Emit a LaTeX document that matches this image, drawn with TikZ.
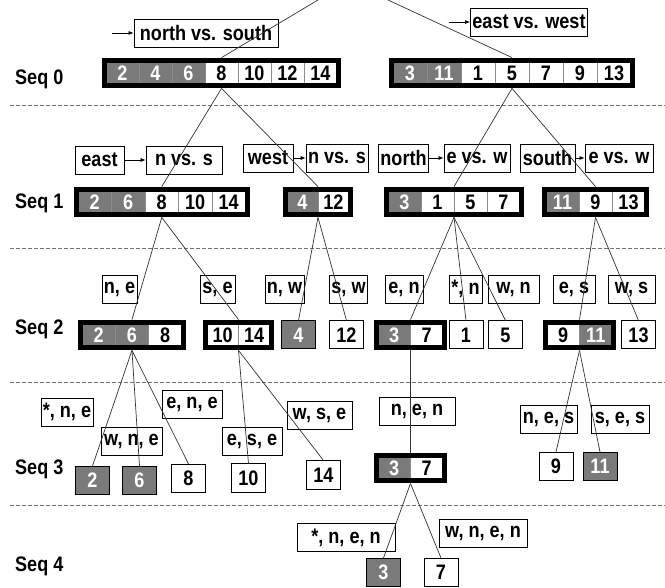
\documentclass[tikz,border=0pt]{standalone}
\usepackage{fontspec}
\setmainfont{Liberation Sans}[FakeStretch=0.86]
\usetikzlibrary{fit,arrows.meta}
\definecolor{cellgray}{HTML}{7A7A7A}
\tikzset{
  lblfont/.style={font=\fontsize{21}{23}\selectfont\bfseries},
  cell/.style={lblfont, draw=black!45, line width=0.8pt, minimum height=22, inner sep=0pt},
  thickbox/.style={draw=black, line width=5pt, inner sep=1.5pt},
  single/.style={lblfont, draw=black, line width=1pt, fill=white, minimum width=34, minimum height=28, inner sep=0pt},
  shaded/.style={fill=cellgray, text=white},
  lbl/.style={lblfont, draw=black, line width=0.8pt, fill=white, minimum height=28, inner xsep=2pt, inner ysep=0pt},
  seqlbl/.style={lblfont, anchor=west, inner sep=0pt},
  wire/.style={draw=black!80, line width=0.7pt},
  sepline/.style={draw=black!55, line width=1pt, dash pattern=on 4pt off 2pt},
  into/.style={-{Latex[length=5pt,width=4pt]}, line width=0.7pt},
}
% name, centre of first cell, y, cell width, number of cells, cells
\newcommand{\seqbox}[6]{%
  \foreach \v/\c/\t [count=\i] in {#6}
    \node[cell, minimum width=#4, fill=\c, text=\t] (#1-\i) at ({#2+(\i-1)*#4}, #3) {\v};
  \node[thickbox, fit=(#1-1) (#1-#5)] (#1) {};
}
\begin{document}
\begin{tikzpicture}[x=1pt, y=-1pt]
  \useasboundingbox (0,0) rectangle (665,588);
  \fill[white] (0,0) rectangle (665,588);

  % separators
  \foreach \y in {106, 249, 383, 505}
    \draw[sepline] (10,\y) -- (665,\y);

  % row labels
  \node[seqlbl] (seq0) at (15,79) {Seq 0};
  \node[seqlbl] (seq1) at (15,203) {Seq 1};
  \node[seqlbl] (seq2) at (15,329) {Seq 2};
  \node[seqlbl] (seq3) at (15,469) {Seq 3};
  \node[seqlbl] (seq4) at (15,566) {Seq 4};

  % tests
  \node[lbl, minimum width=144] (ns0) at (206,33) {north vs. south};
  \node[lbl, minimum width=114] (ew0) at (529,22) {east vs. west};
  \coordinate (in0) at (112,33);
  \coordinate (in1) at (449,22);
  \draw[into] (in0) -- (ns0.west);
  \draw[into] (in1) -- (ew0.west);

  \node[lbl, minimum width=49] (e1) at (99.5,160) {east};
  \node[lbl, minimum width=76] (ns1) at (184,160) {n vs. s};
  \node[lbl, minimum width=50] (w1) at (268,158) {west};
  \node[lbl, minimum width=60] (ns2) at (337,158) {n vs. s};
  \node[lbl, minimum width=49] (n1) at (403.5,158) {north};
  \node[lbl, minimum width=66] (ew1) at (477,158) {e vs. w};
  \node[lbl, minimum width=55] (s1) at (547.5,158) {south};
  \node[lbl, minimum width=68] (ew2) at (619,158) {e vs. w};
  \draw[into] (e1) -- (ns1);
  \draw[into] (w1) -- (ns2);
  \draw[into] (n1) -- (ew1);
  \draw[into] (s1) -- (ew2);

  % paths
  \node[lbl, minimum width=35] (ne) at (119.5,289) {n, e};
  \node[lbl, minimum width=35] (se) at (217.5,289) {s, e};
  \node[lbl, minimum width=37] (nw) at (284.5,289) {n, w};
  \node[lbl, minimum width=37] (sw) at (348.5,289) {s, w};
  \node[lbl, minimum width=38] (en) at (404,289) {e, n};
  \node[lbl, minimum width=33] (xn) at (465.5,289) {*, n};
  \node[lbl, minimum width=51] (wn) at (513.5,289) {w, n};
  \node[lbl, minimum width=42] (es) at (574,289) {e, s};
  \node[lbl, minimum width=47] (ws) at (631.5,289) {w, s};

  \node[lbl, minimum width=50] (xne) at (67,412) {*, n, e};
  \node[lbl, minimum width=61] (wne) at (131.5,441) {w, n, e};
  \node[lbl, minimum width=60] (ene) at (192,404) {e, n, e};
  \node[lbl, minimum width=60] (ese) at (252,441) {e, s, e};
  \node[lbl, minimum width=65] (wse) at (319.5,415) {w, s, e};
  \node[lbl, minimum width=76] (nen) at (417,411.5) {n, e, n};
  \node[lbl, minimum width=57] (nes) at (548.5,419.5) {n, e, s};
  \node[lbl, minimum width=58] (ses) at (620,419.5) {s, e, s};

  \node[lbl, minimum width=98] (xnen) at (346,537.5) {*, n, e, n};
  \node[lbl, minimum width=88] (wnen) at (483,533.5) {w, n, e, n};

  % sequences
  \seqbox{a}{122.5}{73}{33}{7}{2/cellgray/white, 4/cellgray/white, 6/cellgray/white, 8/white/black, 10/white/black, 12/white/black, 14/white/black}
  \seqbox{b}{410}{73}{34}{7}{3/cellgray/white, 11/cellgray/white, 1/white/black, 5/white/black, 7/white/black, 9/white/black, 13/white/black}

  \seqbox{c}{94.75}{202}{33.5}{5}{2/cellgray/white, 6/cellgray/white, 8/white/black, 10/white/black, 14/white/black}
  \seqbox{d}{302.5}{202}{31}{2}{4/cellgray/white, 12/white/black}
  \seqbox{e}{404.5}{202}{33}{4}{3/cellgray/white, 1/white/black, 5/white/black, 7/white/black}
  \seqbox{f}{562.5}{202}{33}{3}{11/cellgray/white, 9/white/black, 13/white/black}

  \seqbox{g}{98.65}{335}{33.3}{3}{2/cellgray/white, 6/cellgray/white, 8/white/black}
  \seqbox{h}{222.75}{335}{31.5}{2}{10/white/black, 14/white/black}
  \node[single, shaded] (s4) at (298.5,335) {4};
  \node[single] (s12) at (346.5,335) {12};
  \seqbox{i}{394.25}{335}{32.5}{2}{3/cellgray/white, 7/white/black}
  \node[single] (s1n) at (466,335) {1};
  \node[single] (s5) at (505.5,335) {5};
  \seqbox{j}{563.25}{335}{32.5}{2}{9/white/black, 11/cellgray/white}
  \node[single] (s13) at (638.5,335) {13};

  \node[single, shaded] (t2) at (92.5,480.5) {2};
  \node[single, shaded] (t6) at (139.5,480.5) {6};
  \node[single] (t8) at (188.5,478.5) {8};
  \node[single] (t10) at (248.5,478) {10};
  \node[single] (t14) at (323.5,475) {14};
  \seqbox{k}{394.25}{468}{32.5}{2}{3/cellgray/white, 7/white/black}
  \node[single] (t9) at (556,466.5) {9};
  \node[single, shaded] (t11) at (600,466.5) {11};

  \node[single, shaded] (u3) at (383.5,572.5) {3};
  \node[single] (u7) at (441,572.5) {7};

  % tree
  \coordinate (root0) at (318,0);
  \coordinate (root1) at (388,0);
  \draw[wire] (root0) -- (a.north);
  \draw[wire] (root1) -- (b.north);
  \draw[wire] (a.south) -- (c.north);
  \draw[wire] (a.south) -- (d.north);
  \draw[wire] (b.south) -- (e.north);
  \draw[wire] (b.south) -- (f.north);
  \draw[wire] (c.south) -- (g.north);
  \draw[wire] (c.south) -- (h.north);
  \draw[wire] (d.south) -- (s4.north);
  \draw[wire] (d.south) -- (s12.north);
  \draw[wire] (e.south) -- (i.north);
  \draw[wire] (e.south) -- (s1n.north);
  \draw[wire] (e.south) -- (s5.north);
  \draw[wire] (f.south) -- (j.north);
  \draw[wire] (f.south) -- (s13.north);
  \draw[wire] (g.south) -- (t2.north);
  \draw[wire] (g.south) -- (t6.north);
  \draw[wire] (g.south) -- (t8.north);
  \draw[wire] (h.south) -- (t10.north);
  \draw[wire] (h.south) -- (t14.north);
  \draw[wire] (i.south) -- (k.north);
  \draw[wire] (j.south) -- (t9.north);
  \draw[wire] (j.south) -- (t11.north);
  \draw[wire] (k.south) -- (u3.north);
  \draw[wire] (k.south) -- (u7.north);
\end{tikzpicture}
\end{document}
